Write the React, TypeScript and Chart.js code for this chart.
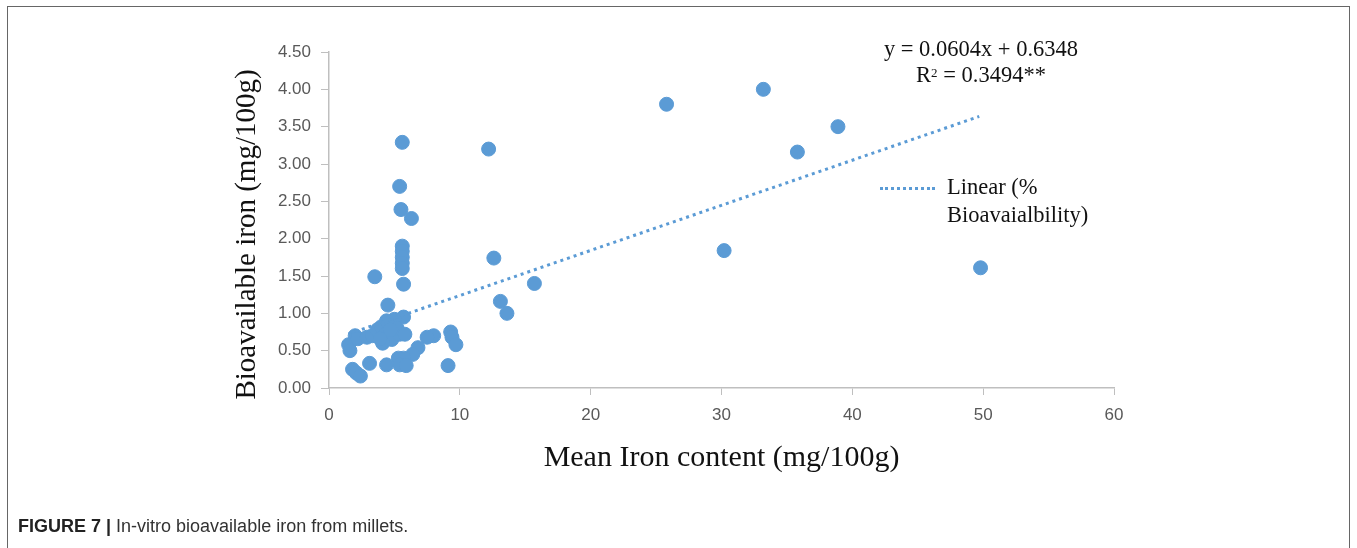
import React, { useEffect, useRef } from "react";
import { Chart, registerables } from "chart.js";

Chart.register(...registerables);

// Mean iron content (mg/100g)
const ironContent: number[] = [
  25.8, 33.2, 38.9, 35.8, 30.2, 49.8, 12.2, 12.6, 15.7, 13.1, 13.6,
  5.6, 5.4, 5.5, 6.3, 5.6, 5.6, 5.6, 5.6, 5.6, 5.7, 3.5, 4.5, 5.7,
  8.0, 7.5, 9.3, 9.4, 9.7, 9.1, 6.8, 6.4, 5.7, 5.3, 5.4, 5.9, 4.4,
  1.5, 1.6, 2.0, 2.2, 2.9, 3.3, 3.7, 4.0, 4.3, 4.6, 5.0, 4.8, 4.1,
  5.4, 5.2, 5.8, 4.4, 1.8, 2.1, 2.4, 3.1, 4.7, 3.9,
];
// Bioavailable iron (mg/100g)
const bioavailable: number[] = [
  3.8, 4.0, 3.5, 3.16, 1.84, 1.61, 3.2, 1.74, 1.4, 1.16, 1.0,
  3.29, 2.7, 2.39, 2.27, 1.9, 1.83, 1.75, 1.67, 1.6, 1.39, 1.49, 1.11, 0.95,
  0.7, 0.68, 0.75, 0.68, 0.58, 0.3, 0.54, 0.45, 0.4, 0.4, 0.31, 0.3, 0.31,
  0.58, 0.5, 0.7, 0.66, 0.68, 0.7, 0.78, 0.82, 0.72, 0.86, 0.92, 0.65, 0.6,
  0.72, 0.8, 0.72, 0.9, 0.25, 0.2, 0.16, 0.33, 0.78, 0.66,
];
// Linear trend endpoints (x, y) as drawn
const trendX: number[] = [1.5, 49.7];
const trendY: number[] = [0.725, 3.637];

const xTicks = [0, 10, 20, 30, 40, 50, 60];
const yTickStep = 0.5;

const BLUE = "#5B9BD5";
const AXIS = "#BFBFBF";
const TICKTXT = "#595959";

export default function App() {
  const ref = useRef<HTMLCanvasElement | null>(null);

  useEffect(() => {
    document.body.style.margin = "0";
    if (!ref.current) return;
    const chart = new Chart(ref.current, {
      type: "scatter",
      data: {
        datasets: [
          {
            label: "Bioavailability",
            data: ironContent.map((x, i) => ({ x, y: bioavailable[i] })),
            backgroundColor: BLUE,
            borderColor: BLUE,
            pointRadius: 7,
            borderWidth: 1,
            order: 2,
          },
          {
            type: "line",
            label: "Linear (% Bioavaialbility)",
            data: trendX.map((x, i) => ({ x, y: trendY[i] })),
            borderColor: BLUE,
            borderWidth: 3,
            borderDash: [3, 4],
            pointRadius: 0,
            fill: false,
            order: 1,
          } as any,
        ],
      },
      options: {
        responsive: false,
        animation: false,
        layout: { padding: { left: 230, right: 243, top: 52, bottom: 72 } },
        plugins: { legend: { display: false }, tooltip: { enabled: false } },
        scales: {
          x: {
            type: "linear",
            min: 0,
            max: 60,
            afterBuildTicks: (s: any) => {
              s.ticks = xTicks.map((v) => ({ value: v }));
            },
            afterFit: (s: any) => {
              s.height = 88;
            },
            grid: {
              drawOnChartArea: false,
              drawTicks: true,
              tickLength: 7,
              color: AXIS,
            },
            border: { color: AXIS, width: 1.5 },
            ticks: {
              color: TICKTXT,
              padding: 10,
              font: { family: "'Liberation Sans', Arial, sans-serif", size: 17 },
            },
            title: {
              display: true,
              text: "Mean Iron content (mg/100g)",
              color: "#111",
              padding: 0,
              font: { family: "'Liberation Serif', 'Times New Roman', serif", size: 30 },
            },
          },
          y: {
            type: "linear",
            min: 0,
            max: 4.5,
            ticks: {
              stepSize: yTickStep,
              color: TICKTXT,
              padding: 10,
              callback: (v: any) => Number(v).toFixed(2),
              font: { family: "'Liberation Sans', Arial, sans-serif", size: 17 },
            },
            afterFit: (s: any) => {
              s.width = 99;
            },
            grid: {
              drawOnChartArea: false,
              drawTicks: true,
              tickLength: 8,
              color: AXIS,
            },
            border: { color: AXIS, width: 1.5 },
            title: {
              display: true,
              text: "Bioavailable iron (mg/100g)    ",
              color: "#111",
              padding: 0,
              font: { family: "'Liberation Serif', 'Times New Roman', serif", size: 29 },
            },
          },
        },
      },
    });
    return () => chart.destroy();
  }, []);

  const serif = "'Liberation Serif', 'Times New Roman', serif";

  return (
    <div style={{ position: "relative", width: 1357, height: 548, overflow: "hidden", background: "#fff" }}>
      <div
        style={{
          position: "absolute",
          left: 7,
          top: 6,
          width: 1341,
          height: 700,
          borderTop: "1.5px solid #666",
          borderLeft: "1.5px solid #666",
          borderRight: "1.5px solid #666",
        }}
      />
      <canvas ref={ref} width={1357} height={548} style={{ position: "absolute", left: 0, top: 0 }} />
      <div
        style={{
          position: "absolute",
          left: 831,
          top: 37,
          width: 300,
          textAlign: "center",
          fontFamily: serif,
          fontSize: 22.5,
          lineHeight: "24px",
          color: "#111",
        }}
      >
        <div>y = 0.0604x + 0.6348</div>
        <div>
          R<span style={{ fontSize: 13, verticalAlign: "5px" }}>2</span> = 0.3494**
        </div>
      </div>
      <div
        style={{
          position: "absolute",
          left: 880,
          top: 187,
          width: 55,
          borderTop: `3px dotted ${BLUE}`,
        }}
      />
      <div
        style={{
          position: "absolute",
          left: 947,
          top: 173,
          fontFamily: serif,
          fontSize: 22.5,
          lineHeight: "28px",
          color: "#111",
        }}
      >
        <div>Linear (%</div>
        <div>Bioavaialbility)</div>
      </div>
      <div
        style={{
          position: "absolute",
          left: 18,
          top: 516,
          fontFamily: "'Liberation Sans', Arial, sans-serif",
          fontSize: 18,
          color: "#333",
        }}
      >
        <b style={{ color: "#222" }}>FIGURE 7 | </b>In-vitro bioavailable iron from millets.
      </div>
    </div>
  );
}
